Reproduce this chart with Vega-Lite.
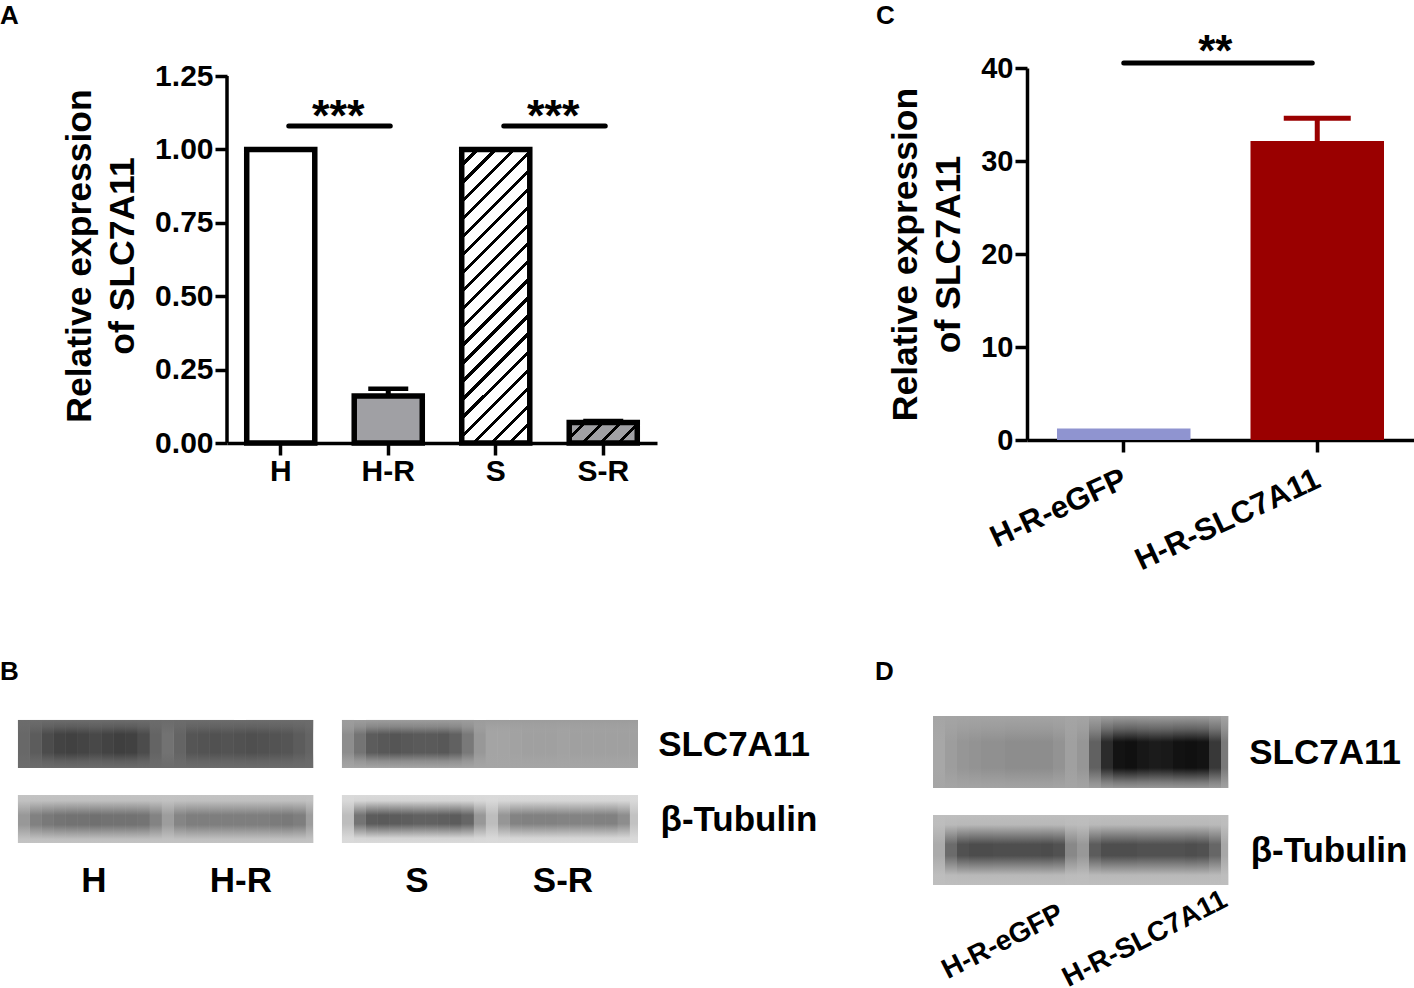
{"$schema":"https://vega.github.io/schema/vega-lite/v6.json","background":"white","padding":{"left":0,"top":3,"right":0,"bottom":0},"align":"none","bounds":"full","spacing":83,
"config":{"view":{"stroke":null},"font":"Liberation Sans","axis":{"grid":false,"labelFont":"Liberation Sans","labelFontWeight":"bold","labelColor":"#000","titleFont":"Liberation Sans","titleFontWeight":"bold","titleColor":"#000","domainColor":"#000","tickColor":"#000","domainWidth":3.5,"tickWidth":3.5,"tickSize":12},"title":{"font":"Liberation Sans","fontWeight":"bold","fontSize":26,"color":"#000","anchor":"start","frame":"group","baseline":"alphabetic"}},
"datasets":{"lanes":[
{"blot":"b1l","col":0,"end":1,"grey":112},{"blot":"b1l","col":1,"end":2,"grey":100},{"blot":"b1l","col":2,"end":3,"grey":82},{"blot":"b1l","col":3,"end":4,"grey":72},{"blot":"b1l","col":4,"end":5,"grey":70},{"blot":"b1l","col":5,"end":6,"grey":74},{"blot":"b1l","col":6,"end":7,"grey":78},{"blot":"b1l","col":7,"end":8,"grey":72},{"blot":"b1l","col":8,"end":9,"grey":68},{"blot":"b1l","col":9,"end":10,"grey":70},{"blot":"b1l","col":10,"end":11,"grey":82},{"blot":"b1l","col":11,"end":12,"grey":108},{"blot":"b1l","col":12,"end":13,"grey":122},{"blot":"b1l","col":13,"end":14,"grey":108},{"blot":"b1l","col":14,"end":15,"grey":92},{"blot":"b1l","col":15,"end":16,"grey":90},{"blot":"b1l","col":16,"end":17,"grey":88},{"blot":"b1l","col":17,"end":18,"grey":90},{"blot":"b1l","col":18,"end":19,"grey":88},{"blot":"b1l","col":19,"end":20,"grey":86},{"blot":"b1l","col":20,"end":21,"grey":88},{"blot":"b1l","col":21,"end":22,"grey":90},{"blot":"b1l","col":22,"end":23,"grey":92},{"blot":"b1l","col":23,"end":24,"grey":100},{"blot":"b1l","col":24,"end":24.6,"grey":108},
{"blot":"b1r","col":27,"end":28,"grey":150},{"blot":"b1r","col":28,"end":29,"grey":125},{"blot":"b1r","col":29,"end":30,"grey":100},{"blot":"b1r","col":30,"end":31,"grey":95},{"blot":"b1r","col":31,"end":32,"grey":92},{"blot":"b1r","col":32,"end":33,"grey":95},{"blot":"b1r","col":33,"end":34,"grey":98},{"blot":"b1r","col":34,"end":35,"grey":98},{"blot":"b1r","col":35,"end":36,"grey":95},{"blot":"b1r","col":36,"end":37,"grey":105},{"blot":"b1r","col":37,"end":38,"grey":130},{"blot":"b1r","col":38,"end":39,"grey":160},{"blot":"b1r","col":39,"end":40,"grey":172},{"blot":"b1r","col":40,"end":41,"grey":172},{"blot":"b1r","col":41,"end":42,"grey":170},{"blot":"b1r","col":42,"end":43,"grey":168},{"blot":"b1r","col":43,"end":44,"grey":168},{"blot":"b1r","col":44,"end":45,"grey":168},{"blot":"b1r","col":45,"end":46,"grey":170},{"blot":"b1r","col":46,"end":47,"grey":168},{"blot":"b1r","col":47,"end":48,"grey":168},{"blot":"b1r","col":48,"end":49,"grey":168},{"blot":"b1r","col":49,"end":50,"grey":168},{"blot":"b1r","col":50,"end":51,"grey":168},{"blot":"b1r","col":51,"end":51.67,"grey":168},
{"blot":"b2l","col":0,"end":1,"grey":160},{"blot":"b2l","col":1,"end":2,"grey":138},{"blot":"b2l","col":2,"end":3,"grey":130},{"blot":"b2l","col":3,"end":4,"grey":125},{"blot":"b2l","col":4,"end":5,"grey":122},{"blot":"b2l","col":5,"end":6,"grey":122},{"blot":"b2l","col":6,"end":7,"grey":120},{"blot":"b2l","col":7,"end":8,"grey":122},{"blot":"b2l","col":8,"end":9,"grey":122},{"blot":"b2l","col":9,"end":10,"grey":122},{"blot":"b2l","col":10,"end":11,"grey":125},{"blot":"b2l","col":11,"end":12,"grey":140},{"blot":"b2l","col":12,"end":13,"grey":165},{"blot":"b2l","col":13,"end":14,"grey":142},{"blot":"b2l","col":14,"end":15,"grey":135},{"blot":"b2l","col":15,"end":16,"grey":135},{"blot":"b2l","col":16,"end":17,"grey":135},{"blot":"b2l","col":17,"end":18,"grey":135},{"blot":"b2l","col":18,"end":19,"grey":135},{"blot":"b2l","col":19,"end":20,"grey":135},{"blot":"b2l","col":20,"end":21,"grey":135},{"blot":"b2l","col":21,"end":22,"grey":132},{"blot":"b2l","col":22,"end":23,"grey":130},{"blot":"b2l","col":23,"end":24,"grey":135},{"blot":"b2l","col":24,"end":24.6,"grey":165},
{"blot":"b2r","col":27,"end":28,"grey":195},{"blot":"b2r","col":28,"end":29,"grey":125},{"blot":"b2r","col":29,"end":30,"grey":100},{"blot":"b2r","col":30,"end":31,"grey":98},{"blot":"b2r","col":31,"end":32,"grey":100},{"blot":"b2r","col":32,"end":33,"grey":102},{"blot":"b2r","col":33,"end":34,"grey":105},{"blot":"b2r","col":34,"end":35,"grey":105},{"blot":"b2r","col":35,"end":36,"grey":103},{"blot":"b2r","col":36,"end":37,"grey":100},{"blot":"b2r","col":37,"end":38,"grey":110},{"blot":"b2r","col":38,"end":39,"grey":160},{"blot":"b2r","col":39,"end":40,"grey":195},{"blot":"b2r","col":40,"end":41,"grey":158},{"blot":"b2r","col":41,"end":42,"grey":140},{"blot":"b2r","col":42,"end":43,"grey":138},{"blot":"b2r","col":43,"end":44,"grey":138},{"blot":"b2r","col":44,"end":45,"grey":138},{"blot":"b2r","col":45,"end":46,"grey":140},{"blot":"b2r","col":46,"end":47,"grey":140},{"blot":"b2r","col":47,"end":48,"grey":140},{"blot":"b2r","col":48,"end":49,"grey":138},{"blot":"b2r","col":49,"end":50,"grey":138},{"blot":"b2r","col":50,"end":51,"grey":150},{"blot":"b2r","col":51,"end":51.67,"grey":200},
{"blot":"d1","col":0,"end":1,"grey":175},{"blot":"d1","col":1,"end":2,"grey":165},{"blot":"d1","col":2,"end":3,"grey":158},{"blot":"d1","col":3,"end":4,"grey":155},{"blot":"d1","col":4,"end":5,"grey":152},{"blot":"d1","col":5,"end":6,"grey":152},{"blot":"d1","col":6,"end":7,"grey":150},{"blot":"d1","col":7,"end":8,"grey":150},{"blot":"d1","col":8,"end":9,"grey":150},{"blot":"d1","col":9,"end":10,"grey":150},{"blot":"d1","col":10,"end":11,"grey":155},{"blot":"d1","col":11,"end":12,"grey":168},{"blot":"d1","col":12,"end":13,"grey":158},{"blot":"d1","col":13,"end":14,"grey":105},{"blot":"d1","col":14,"end":15,"grey":45},{"blot":"d1","col":15,"end":16,"grey":15},{"blot":"d1","col":16,"end":17,"grey":12},{"blot":"d1","col":17,"end":18,"grey":20},{"blot":"d1","col":18,"end":19,"grey":25},{"blot":"d1","col":19,"end":20,"grey":22},{"blot":"d1","col":20,"end":21,"grey":14},{"blot":"d1","col":21,"end":22,"grey":12},{"blot":"d1","col":22,"end":23,"grey":15},{"blot":"d1","col":23,"end":24,"grey":60},{"blot":"d1","col":24,"end":24.6,"grey":130},
{"blot":"d2","col":0,"end":1,"grey":178},{"blot":"d2","col":1,"end":2,"grey":115},{"blot":"d2","col":2,"end":3,"grey":88},{"blot":"d2","col":3,"end":4,"grey":82},{"blot":"d2","col":4,"end":5,"grey":82},{"blot":"d2","col":5,"end":6,"grey":85},{"blot":"d2","col":6,"end":7,"grey":85},{"blot":"d2","col":7,"end":8,"grey":85},{"blot":"d2","col":8,"end":9,"grey":85},{"blot":"d2","col":9,"end":10,"grey":82},{"blot":"d2","col":10,"end":11,"grey":88},{"blot":"d2","col":11,"end":12,"grey":145},{"blot":"d2","col":12,"end":13,"grey":160},{"blot":"d2","col":13,"end":14,"grey":100},{"blot":"d2","col":14,"end":15,"grey":85},{"blot":"d2","col":15,"end":16,"grey":85},{"blot":"d2","col":16,"end":17,"grey":85},{"blot":"d2","col":17,"end":18,"grey":88},{"blot":"d2","col":18,"end":19,"grey":88},{"blot":"d2","col":19,"end":20,"grey":88},{"blot":"d2","col":20,"end":21,"grey":88},{"blot":"d2","col":21,"end":22,"grey":85},{"blot":"d2","col":22,"end":23,"grey":88},{"blot":"d2","col":23,"end":24,"grey":110},{"blot":"d2","col":24,"end":24.6,"grey":175}
]},
"vconcat":[
{"align":"none","bounds":"full","spacing":219,"hconcat":[
{"width":430,"height":375,"title":{"text":"A","dx":-227,"offset":32},
"encoding":{"x":{"field":"group","type":"nominal","title":null,"scale":{"domain":["H","H-R","S","S-R"],"paddingInner":0.367,"paddingOuter":0.1835},"axis":{"labelFontSize":30,"labelAngle":0,"labelPadding":1}}},
"layer":[
{"data":{"values":[{"group":"H","lo":0,"hi":1.25}]},"mark":{"type":"rule","xOffset":-53.75,"strokeWidth":3.5,"color":"#000"},"encoding":{"y":{"field":"lo","type":"quantitative","scale":{"domain":[0,1.27725],"nice":false},"title":["Relative expression","of SLC7A11"],"axis":{"values":[0,0.25,0.5,0.75,1,1.25],"format":".2f","domain":false,"labelFontSize":30,"labelPadding":2,"titleFontSize":35.5,"titleLineHeight":43,"titlePadding":14}},"y2":{"field":"hi"}}},
{"data":{"values":[{"group":"H","value":1}]},"mark":{"type":"bar","stroke":"#000","strokeWidth":5.5,"fill":"#ffffff"},"encoding":{"y":{"field":"value","type":"quantitative"}}},
{"data":{"values":[{"group":"H-R","value":0.16}]},"mark":{"type":"bar","stroke":"#000","strokeWidth":5.5,"fill":"#a0a0a4"},"encoding":{"y":{"field":"value","type":"quantitative"}}},
{"data":{"values":[{"group":"S","value":1}]},"mark":{"type":"bar","stroke":"#000","strokeWidth":5.5,"fill":{"gradient":"linear","x1":0,"y1":0,"x2":0.2707,"y2":1.1689,"stops":[{"offset":0,"color":"#fff"},{"offset":0.038,"color":"#fff"},{"offset":0.038,"color":"#000"},{"offset":0.05,"color":"#000"},{"offset":0.05,"color":"#fff"},{"offset":0.088,"color":"#fff"},{"offset":0.088,"color":"#000"},{"offset":0.1,"color":"#000"},{"offset":0.1,"color":"#fff"},{"offset":0.138,"color":"#fff"},{"offset":0.138,"color":"#000"},{"offset":0.15,"color":"#000"},{"offset":0.15,"color":"#fff"},{"offset":0.188,"color":"#fff"},{"offset":0.188,"color":"#000"},{"offset":0.2,"color":"#000"},{"offset":0.2,"color":"#fff"},{"offset":0.238,"color":"#fff"},{"offset":0.238,"color":"#000"},{"offset":0.25,"color":"#000"},{"offset":0.25,"color":"#fff"},{"offset":0.288,"color":"#fff"},{"offset":0.288,"color":"#000"},{"offset":0.3,"color":"#000"},{"offset":0.3,"color":"#fff"},{"offset":0.338,"color":"#fff"},{"offset":0.338,"color":"#000"},{"offset":0.35,"color":"#000"},{"offset":0.35,"color":"#fff"},{"offset":0.388,"color":"#fff"},{"offset":0.388,"color":"#000"},{"offset":0.4,"color":"#000"},{"offset":0.4,"color":"#fff"},{"offset":0.438,"color":"#fff"},{"offset":0.438,"color":"#000"},{"offset":0.45,"color":"#000"},{"offset":0.45,"color":"#fff"},{"offset":0.488,"color":"#fff"},{"offset":0.488,"color":"#000"},{"offset":0.5,"color":"#000"},{"offset":0.5,"color":"#fff"},{"offset":0.538,"color":"#fff"},{"offset":0.538,"color":"#000"},{"offset":0.55,"color":"#000"},{"offset":0.55,"color":"#fff"},{"offset":0.588,"color":"#fff"},{"offset":0.588,"color":"#000"},{"offset":0.6,"color":"#000"},{"offset":0.6,"color":"#fff"},{"offset":0.638,"color":"#fff"},{"offset":0.638,"color":"#000"},{"offset":0.65,"color":"#000"},{"offset":0.65,"color":"#fff"},{"offset":0.688,"color":"#fff"},{"offset":0.688,"color":"#000"},{"offset":0.7,"color":"#000"},{"offset":0.7,"color":"#fff"},{"offset":0.738,"color":"#fff"},{"offset":0.738,"color":"#000"},{"offset":0.75,"color":"#000"},{"offset":0.75,"color":"#fff"},{"offset":0.788,"color":"#fff"},{"offset":0.788,"color":"#000"},{"offset":0.8,"color":"#000"},{"offset":0.8,"color":"#fff"},{"offset":0.838,"color":"#fff"},{"offset":0.838,"color":"#000"},{"offset":0.85,"color":"#000"},{"offset":0.85,"color":"#fff"},{"offset":0.888,"color":"#fff"},{"offset":0.888,"color":"#000"},{"offset":0.9,"color":"#000"},{"offset":0.9,"color":"#fff"},{"offset":0.938,"color":"#fff"},{"offset":0.938,"color":"#000"},{"offset":0.95,"color":"#000"},{"offset":0.95,"color":"#fff"},{"offset":0.988,"color":"#fff"},{"offset":0.988,"color":"#000"},{"offset":1,"color":"#000"}]}},"encoding":{"y":{"field":"value","type":"quantitative"}}},
{"data":{"values":[{"group":"S-R","value":0.07}]},"mark":{"type":"bar","stroke":"#000","strokeWidth":5.5,"fill":{"gradient":"linear","x1":0,"y1":0,"x2":1.193,"y2":0.3606,"stops":[{"offset":0,"color":"#a0a0a4"},{"offset":0.155,"color":"#a0a0a4"},{"offset":0.155,"color":"#000"},{"offset":0.204,"color":"#000"},{"offset":0.204,"color":"#a0a0a4"},{"offset":0.359,"color":"#a0a0a4"},{"offset":0.359,"color":"#000"},{"offset":0.408,"color":"#000"},{"offset":0.408,"color":"#a0a0a4"},{"offset":0.563,"color":"#a0a0a4"},{"offset":0.563,"color":"#000"},{"offset":0.612,"color":"#000"},{"offset":0.612,"color":"#a0a0a4"},{"offset":0.767,"color":"#a0a0a4"},{"offset":0.767,"color":"#000"},{"offset":0.816,"color":"#000"},{"offset":0.816,"color":"#a0a0a4"},{"offset":0.971,"color":"#a0a0a4"},{"offset":0.971,"color":"#000"},{"offset":1,"color":"#000"}]}},"encoding":{"y":{"field":"value","type":"quantitative"}}},
{"data":{"values":[{"group":"H-R","value":0.16,"err":0.185},{"group":"S-R","value":0.07,"err":0.075}]},"mark":{"type":"rule","strokeWidth":5,"color":"#000"},"encoding":{"y":{"field":"value","type":"quantitative"},"y2":{"field":"err"}}},
{"data":{"values":[{"group":"H-R","err":0.185},{"group":"S-R","err":0.075}]},"mark":{"type":"tick","orient":"horizontal","size":40,"thickness":4.5,"color":"#000","opacity":1},"encoding":{"y":{"field":"err","type":"quantitative"}}},
{"data":{"values":[{"group":"H","to":"H-R","level":1.08},{"group":"S","to":"S-R","level":1.08}]},"mark":{"type":"rule","strokeWidth":5,"strokeCap":"round","color":"#000","xOffset":8,"x2Offset":2},"encoding":{"x2":{"field":"to"},"y":{"field":"level","type":"quantitative"}}},
{"data":{"values":[{"group":"H-R","level":1.062,"stars":"***"},{"group":"S-R","level":1.062,"stars":"***"}]},"mark":{"type":"text","fontSize":45,"fontWeight":"bold","baseline":"alphabetic","dx":-50,"color":"#000"},"encoding":{"y":{"field":"level","type":"quantitative"},"text":{"field":"stars"}}}
]},
{"width":387,"height":372,"title":{"text":"C","dx":-151,"offset":2},
"encoding":{"x":{"field":"group","type":"nominal","title":null,"scale":{"domain":["H-R-eGFP","H-R-SLC7A11"],"paddingInner":0.31,"paddingOuter":0.155},"axis":{"labelFontSize":31,"labelAngle":-25,"labelAlign":"right","labelBaseline":"top","labelPadding":12,"labelOffset":-5,"labelLimit":400}}},
"layer":[
{"data":{"values":[{"group":"H-R-eGFP","value":1.25}]},"mark":{"type":"bar","fill":"#8f94d0"},"encoding":{"y":{"field":"value","type":"quantitative","scale":{"domain":[0,40],"nice":false},"title":["Relative expression","of SLC7A11"],"axis":{"values":[0,10,20,30,40],"labelFontSize":29,"labelPadding":2,"titleFontSize":35.5,"titleLineHeight":43,"titlePadding":14}}}},
{"data":{"values":[{"group":"H-R-SLC7A11","value":32.15}]},"mark":{"type":"bar","fill":"#9a0000"},"encoding":{"y":{"field":"value","type":"quantitative"}}},
{"data":{"values":[{"group":"H-R-SLC7A11","value":32.15,"err":34.6}]},"mark":{"type":"rule","strokeWidth":5,"color":"#9a0000"},"encoding":{"y":{"field":"value","type":"quantitative"},"y2":{"field":"err"}}},
{"data":{"values":[{"group":"H-R-SLC7A11","err":34.6}]},"mark":{"type":"tick","orient":"horizontal","size":67,"thickness":5,"color":"#9a0000","opacity":1},"encoding":{"y":{"field":"err","type":"quantitative"}}},
{"data":{"values":[{"group":"H-R-eGFP","to":"H-R-SLC7A11","level":40.54}]},"mark":{"type":"rule","strokeWidth":5,"strokeCap":"round","color":"#000","x2Offset":-5},"encoding":{"x2":{"field":"to"},"y":{"field":"level","type":"quantitative"}}},
{"data":{"values":[{"group":"H-R-SLC7A11","level":40.2,"stars":"**"}]},"mark":{"type":"text","fontSize":44,"fontWeight":"bold","baseline":"alphabetic","dx":-102,"color":"#000"},"encoding":{"y":{"field":"level","type":"quantitative"},"text":{"field":"stars"}}}
]}
]},
{"align":"none","bounds":"full","spacing":45,"hconcat":[
{"width":603,"height":184,"title":{"text":"B","dx":-227,"offset":31},
"layer":[
{"data":{"name":"lanes"},"transform":[{"filter":"datum.blot==='b1l'"}],"mark":{"type":"rect"},"encoding":{"x":{"field":"col","type":"quantitative","scale":{"domain":[17.42,67.67],"nice":false},"axis":null},"x2":{"field":"end"},"y":{"datum":0.33,"type":"quantitative","scale":{"domain":[0,15.33],"reverse":true,"nice":false},"axis":null},"y2":{"datum":4.33},"fill":{"field":"grey","type":"quantitative","scale":{"domain":[0,255],"range":["#000000","#ffffff"]},"legend":null}}},
{"data":{"values":[{"blot":"b1l"}]},"mark":{"type":"rect","fill":{"gradient":"linear","x1":0,"y1":0,"x2":0,"y2":1,"stops":[{"offset":0,"color":"rgba(108,108,108,1)"},{"offset":0.14,"color":"rgba(108,108,108,0.65)"},{"offset":0.3,"color":"rgba(108,108,108,0)"},{"offset":0.68,"color":"rgba(108,108,108,0)"},{"offset":0.86,"color":"rgba(108,108,108,0.7)"},{"offset":1,"color":"rgba(108,108,108,1)"}]}},"encoding":{"x":{"datum":0,"type":"quantitative"},"x2":{"datum":24.6},"y":{"datum":0.33,"type":"quantitative"},"y2":{"datum":4.33}}},
{"data":{"name":"lanes"},"transform":[{"filter":"datum.blot==='b1r'"}],"mark":{"type":"rect"},"encoding":{"x":{"field":"col","type":"quantitative"},"x2":{"field":"end"},"y":{"datum":0.33,"type":"quantitative"},"y2":{"datum":4.33},"fill":{"field":"grey","type":"quantitative"}}},
{"data":{"values":[{"blot":"b1r"}]},"mark":{"type":"rect","fill":{"gradient":"linear","x1":0,"y1":0,"x2":0,"y2":1,"stops":[{"offset":0,"color":"rgba(156,156,156,1)"},{"offset":0.14,"color":"rgba(160,160,160,0.65)"},{"offset":0.3,"color":"rgba(165,165,165,0)"},{"offset":0.68,"color":"rgba(165,165,165,0)"},{"offset":0.86,"color":"rgba(165,165,165,0.7)"},{"offset":1,"color":"rgba(165,165,165,1)"}]}},"encoding":{"x":{"datum":27,"type":"quantitative"},"x2":{"datum":51.67},"y":{"datum":0.33,"type":"quantitative"},"y2":{"datum":4.33}}},
{"data":{"name":"lanes"},"transform":[{"filter":"datum.blot==='b2l'"}],"mark":{"type":"rect"},"encoding":{"x":{"field":"col","type":"quantitative"},"x2":{"field":"end"},"y":{"datum":6.58,"type":"quantitative"},"y2":{"datum":10.58},"fill":{"field":"grey","type":"quantitative"}}},
{"data":{"values":[{"blot":"b2l"}]},"mark":{"type":"rect","fill":{"gradient":"linear","x1":0,"y1":0,"x2":0,"y2":1,"stops":[{"offset":0,"color":"rgba(195,195,195,1)"},{"offset":0.12,"color":"rgba(195,195,195,0.95)"},{"offset":0.42,"color":"rgba(195,195,195,0)"},{"offset":0.62,"color":"rgba(195,195,195,0)"},{"offset":0.92,"color":"rgba(195,195,195,0.95)"},{"offset":1,"color":"rgba(195,195,195,1)"}]}},"encoding":{"x":{"datum":0,"type":"quantitative"},"x2":{"datum":24.6},"y":{"datum":6.58,"type":"quantitative"},"y2":{"datum":10.58}}},
{"data":{"name":"lanes"},"transform":[{"filter":"datum.blot==='b2r'"}],"mark":{"type":"rect"},"encoding":{"x":{"field":"col","type":"quantitative"},"x2":{"field":"end"},"y":{"datum":6.58,"type":"quantitative"},"y2":{"datum":10.58},"fill":{"field":"grey","type":"quantitative"}}},
{"data":{"values":[{"blot":"b2r"}]},"mark":{"type":"rect","fill":{"gradient":"linear","x1":0,"y1":0,"x2":0,"y2":1,"stops":[{"offset":0,"color":"rgba(218,218,218,1)"},{"offset":0.12,"color":"rgba(218,218,218,0.95)"},{"offset":0.42,"color":"rgba(218,218,218,0)"},{"offset":0.6,"color":"rgba(218,218,218,0)"},{"offset":0.9,"color":"rgba(218,218,218,0.95)"},{"offset":1,"color":"rgba(218,218,218,1)"}]}},"encoding":{"x":{"datum":27,"type":"quantitative"},"x2":{"datum":51.67},"y":{"datum":6.58,"type":"quantitative"},"y2":{"datum":10.58}}},
{"data":{"values":[{"pos":59.67,"row":2.42,"label":"SLC7A11"},{"pos":60.08,"row":8.67,"label":"β-Tubulin"},{"pos":6.33,"row":13.75,"label":"H"},{"pos":18.58,"row":13.75,"label":"H-R"},{"pos":33.25,"row":13.75,"label":"S"},{"pos":45.42,"row":13.75,"label":"S-R"}]},"mark":{"type":"text","fontSize":35,"fontWeight":"bold","color":"#000"},"encoding":{"x":{"field":"pos","type":"quantitative"},"y":{"field":"row","type":"quantitative"},"text":{"field":"label"}}}
]},
{"width":480,"height":272,"title":{"text":"D","dx":-58,"offset":31},
"layer":[
{"data":{"name":"lanes"},"transform":[{"filter":"datum.blot==='d1'"}],"mark":{"type":"rect"},"encoding":{"x":{"field":"col","type":"quantitative","scale":{"domain":[0,40],"nice":false},"axis":null},"x2":{"field":"end"},"y":{"datum":0,"type":"quantitative","scale":{"domain":[0,22.67],"reverse":true,"nice":false},"axis":null},"y2":{"datum":6},"fill":{"field":"grey","type":"quantitative","scale":{"domain":[0,255],"range":["#000000","#ffffff"]},"legend":null}}},
{"data":{"values":[{"blot":"d1"}]},"mark":{"type":"rect","fill":{"gradient":"linear","x1":0,"y1":0,"x2":0,"y2":1,"stops":[{"offset":0,"color":"rgba(165,165,165,0.95)"},{"offset":0.18,"color":"rgba(165,165,165,0.55)"},{"offset":0.36,"color":"rgba(165,165,165,0)"},{"offset":0.72,"color":"rgba(165,165,165,0)"},{"offset":0.92,"color":"rgba(165,165,165,0.7)"},{"offset":1,"color":"rgba(165,165,165,0.9)"}]}},"encoding":{"x":{"datum":0,"type":"quantitative"},"x2":{"datum":24.6},"y":{"datum":0,"type":"quantitative"},"y2":{"datum":6}}},
{"data":{"name":"lanes"},"transform":[{"filter":"datum.blot==='d2'"}],"mark":{"type":"rect"},"encoding":{"x":{"field":"col","type":"quantitative"},"x2":{"field":"end"},"y":{"datum":8.25,"type":"quantitative"},"y2":{"datum":14.08},"fill":{"field":"grey","type":"quantitative"}}},
{"data":{"values":[{"blot":"d2"}]},"mark":{"type":"rect","fill":{"gradient":"linear","x1":0,"y1":0,"x2":0,"y2":1,"stops":[{"offset":0,"color":"rgba(190,190,190,1)"},{"offset":0.14,"color":"rgba(190,190,190,0.95)"},{"offset":0.42,"color":"rgba(190,190,190,0)"},{"offset":0.58,"color":"rgba(190,190,190,0)"},{"offset":0.86,"color":"rgba(190,190,190,0.95)"},{"offset":1,"color":"rgba(190,190,190,1)"}]}},"encoding":{"x":{"datum":0,"type":"quantitative"},"x2":{"datum":24.6},"y":{"datum":8.25,"type":"quantitative"},"y2":{"datum":14.08}}},
{"data":{"values":[{"pos":32.67,"row":3.08,"label":"SLC7A11"},{"pos":33,"row":11.25,"label":"β-Tubulin"}]},"mark":{"type":"text","fontSize":35,"fontWeight":"bold","color":"#000"},"encoding":{"x":{"field":"pos","type":"quantitative"},"y":{"field":"row","type":"quantitative"},"text":{"field":"label"}}},
{"data":{"values":[{"pos":5.83,"row":18.85,"label":"H-R-eGFP"},{"pos":17.67,"row":18.6,"label":"H-R-SLC7A11"}]},"mark":{"type":"text","fontSize":28,"fontWeight":"bold","angle":-27,"color":"#000"},"encoding":{"x":{"field":"pos","type":"quantitative"},"y":{"field":"row","type":"quantitative"},"text":{"field":"label"}}}
]}
]}
]}
